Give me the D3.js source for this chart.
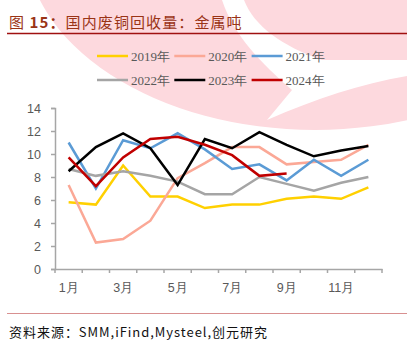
<!DOCTYPE html>
<html>
<head>
<meta charset="utf-8">
<script src="https://cdn.jsdelivr.net/npm/d3@7"></script>
<style>
  body { margin: 0; background: #fff; }
  svg { display: block; }
</style>
</head>
<body>
<div class="chart"></div>
<script>
// month categories, only odd ones get a label
const months = ["1月", "2月", "3月", "4月", "5月", "6月", "7月", "8月", "9月", "10月", "11月", "12月"];
const yTicks = [0, 2, 4, 6, 8, 10, 12, 14];

// values (万吨)
const y2019 = [5.8, 5.6, 9.0, 6.3, 6.3, 5.3, 5.6, 5.6, 6.1, 6.3, 6.1, 7.1];
const y2020 = [7.3, 2.3, 2.6, 4.2, 7.9, 9.2, 10.6, 10.6, 9.1, 9.3, 9.5, 10.8];
const y2021 = [11.0, 7.0, 11.2, 10.5, 11.8, 10.4, 8.7, 9.1, 7.7, 9.5, 8.1, 9.5];
const y2022 = [8.7, 8.1, 8.5, 8.1, 7.6, 6.5, 6.5, 8.0, 7.4, 6.8, 7.5, 8.0];
const y2023 = [8.5, 10.6, 11.8, 10.5, 7.3, 11.3, 10.5, 11.9, 10.8, 9.8, 10.3, 10.7];
const y2024 = [9.7, 7.2, 9.7, 11.3, 11.5, 10.8, 9.9, 8.1, 8.3];

const series = [
    {name: "2019年", color: "#FFD000", values: y2019},
    {name: "2020年", color: "#FBA896", values: y2020},
    {name: "2021年", color: "#5B9BD5", values: y2021},
    {name: "2022年", color: "#A5A5A5", values: y2022},
    {name: "2023年", color: "#000000", values: y2023},
    {name: "2024年", color: "#C00000", values: y2024}
];

const width = 407;
const height = 350;
const margin = {top: 108, right: 25, bottom: 81, left: 55};

const svg = d3.select(".chart")
    .append("svg")
    .attr("width", width)
    .attr("height", height);

// pink watermark in the background
svg.append("ellipse")
    .attr("cx", 315).attr("cy", -60)
    .attr("rx", 290).attr("ry", 190)
    .attr("fill", "#FDD9DE");
svg.append("path")
    .attr("d", "M222,0 L244,0 C254,26 282,46 322,60 L407,60 L407,76 C360,84 318,98 267,120 L292,90 C262,64 234,36 222,0 Z")
    .attr("fill", "#fff");

// title
const title = svg.append("text")
    .attr("x", 9)
    .attr("y", 28)
    .attr("fill", "#9A3416")
    .style("font-family", "'Noto Sans CJK SC', sans-serif")
    .style("font-size", "15px")
    .style("letter-spacing", "1.1px");
title.append("tspan").text("图 ");
title.append("tspan").style("font-weight", "bold").text("15：");
title.append("tspan").text("国内废铜回收量：金属吨");

svg.append("line")
    .attr("x1", 7).attr("x2", width)
    .attr("y1", 33.5).attr("y2", 33.5)
    .attr("stroke", "#A01010")
    .attr("stroke-width", 1.5);

// footer
svg.append("line")
    .attr("x1", 7).attr("x2", width)
    .attr("y1", 313.5).attr("y2", 313.5)
    .attr("stroke", "#D89090")
    .attr("stroke-width", 1);

svg.append("text")
    .attr("x", 9)
    .attr("y", 337)
    .attr("fill", "#111")
    .attr("textLength", 258)
    .style("font-family", "'Noto Sans CJK SC', sans-serif")
    .style("font-size", "13px")
    .text("资料来源：SMM,iFind,Mysteel,创元研究");

// scales
const x = d3.scaleBand()
    .domain(months)
    .range([margin.left, width - margin.right])
    .padding(0);

const y = d3.scaleLinear()
    .domain([0, 14])
    .range([height - margin.bottom, margin.top]);

const axisColor = "#A6A6A6";
const labelColor = "#595959";

// y axis
const yAxis = svg.append("g")
    .attr("transform", `translate(${margin.left}, 0)`)
    .call(d3.axisLeft(y).tickValues(yTicks).tickSize(4).tickPadding(10));
yAxis.select(".domain").attr("stroke", axisColor).attr("stroke-width", 1.5);
yAxis.selectAll(".tick line").attr("stroke", axisColor).attr("stroke-width", 1.5);
yAxis.selectAll("text")
    .attr("fill", labelColor)
    .style("font-family", "'Liberation Sans', Arial, sans-serif")
    .style("font-size", "12.5px");

// x axis, labels only on odd months
const xAxis = svg.append("g")
    .attr("transform", `translate(0, ${y(0)})`)
    .call(d3.axisBottom(x).tickSize(0).tickPadding(14)
        .tickFormat((d, i) => i % 2 === 0 ? d : ""));
xAxis.select(".domain").attr("stroke", axisColor).attr("stroke-width", 1.5);
xAxis.selectAll("text")
    .attr("fill", labelColor)
    .style("font-family", "'Liberation Sans', Arial, sans-serif")
    .style("font-size", "12.5px");

// tick marks sit on the band edges
const edges = months.map(m => x(m)).concat([x(months[11]) + x.bandwidth()]);
xAxis.selectAll(".edge")
    .data(edges)
    .enter()
    .append("line")
    .attr("x1", d => d).attr("x2", d => d)
    .attr("y1", 0).attr("y2", 4)
    .attr("stroke", axisColor)
    .attr("stroke-width", 1.5);

// lines
const line = d3.line()
    .x((d, i) => x(months[i]) + x.bandwidth() / 2)
    .y(d => y(d));

svg.append("g")
    .selectAll("path")
    .data(series)
    .enter()
    .append("path")
    .attr("d", d => line(d.values))
    .attr("fill", "none")
    .attr("stroke", d => d.color)
    .attr("stroke-width", 2.5)
    .attr("stroke-linejoin", "miter");

// legend, 3 per row
const legend = svg.selectAll(".legend")
    .data(series)
    .enter()
    .append("g")
    .attr("class", "legend")
    .attr("transform", (d, i) => `translate(${97 + (i % 3) * 77.3}, ${56 + Math.floor(i / 3) * 24})`);

legend.append("line")
    .attr("x1", 0).attr("x2", 31)
    .attr("y1", 0).attr("y2", 0)
    .attr("stroke", d => d.color)
    .attr("stroke-width", 2.5);

legend.append("text")
    .attr("x", 34)
    .attr("y", 0)
    .attr("dy", "0.35em")
    .attr("fill", labelColor)
    .style("font-family", "'Liberation Serif', 'Times New Roman', serif")
    .style("font-size", "13px")
    .text(d => d.name);
</script>
</body>
</html>
